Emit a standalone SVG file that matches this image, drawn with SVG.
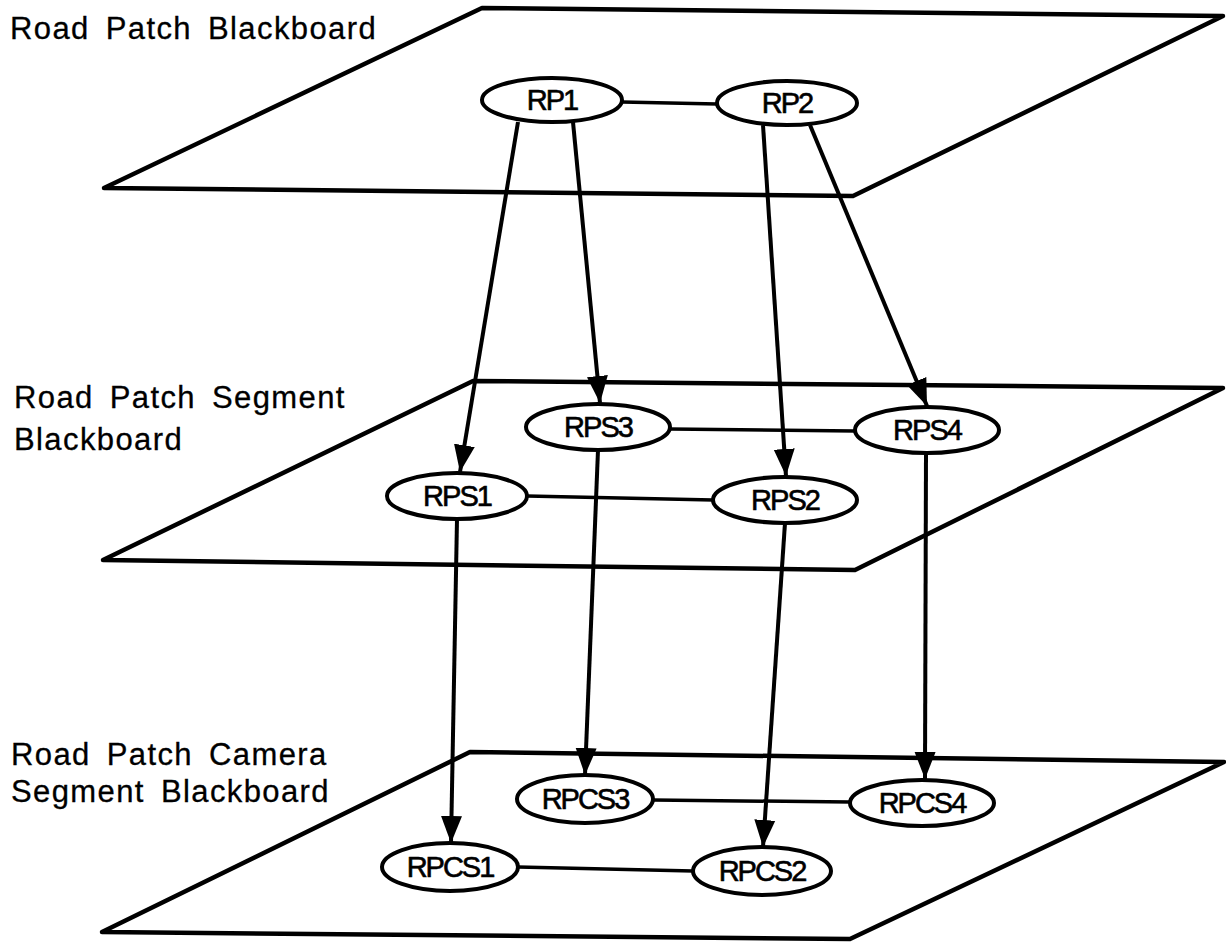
<svg xmlns="http://www.w3.org/2000/svg" width="1226" height="942" viewBox="0 0 1226 942">
<style>
.plane{fill:none;stroke:#000;stroke-width:4.5;stroke-linejoin:round}
.lbl{font-family:"Liberation Sans",Arial,sans-serif;font-size:31px;letter-spacing:1.4px;word-spacing:6px;fill:#000;stroke:#000;stroke-width:0.3}
.node ellipse{fill:#fff;stroke:#000;stroke-width:4}
.node text{font-family:"Liberation Sans",Arial,sans-serif;font-size:29px;letter-spacing:-2px;text-anchor:middle;fill:#000;stroke:#000;stroke-width:0.6}
.edge{stroke:#000;stroke-width:3.5;fill:none}
.arrow{stroke:#000;stroke-width:4;fill:none;marker-end:url(#ah)}
</style>
<defs>
<marker id="ah" markerUnits="userSpaceOnUse" markerWidth="28" markerHeight="24" viewBox="0 0 28 24" refX="27" refY="12" orient="auto">
<path d="M0,1.5 L27,12 L0,22.5 z" fill="#000"/>
</marker>
</defs>
<rect width="1226" height="942" fill="#fff"/>
<g id="planes">
<polygon class="plane" points="482,8 1223,16 853,196 104,188"/>
<polygon class="plane" points="473,381 1223,388 855,570 103,560"/>
<polygon class="plane" points="470,752 1224,762 850,939 102,932"/>
</g>
<g id="labels">
<text class="lbl" x="10" y="39">Road Patch Blackboard</text>
<text class="lbl" x="14" y="408">Road Patch Segment</text>
<text class="lbl" x="14" y="450">Blackboard</text>
<text class="lbl" x="11" y="765">Road Patch Camera</text>
<text class="lbl" x="11" y="802">Segment Blackboard</text>
</g>
<g id="connectors">
<line class="edge" x1="622" y1="102" x2="717" y2="104"/>
<line class="edge" x1="670" y1="429" x2="855" y2="431"/>
<line class="edge" x1="527" y1="496" x2="713" y2="500"/>
<line class="edge" x1="653" y1="800" x2="850" y2="802"/>
<line class="edge" x1="518" y1="867" x2="693" y2="871"/>
<line class="arrow" x1="518" y1="122" x2="460" y2="472"/>
<line class="arrow" x1="573" y1="122" x2="600" y2="403"/>
<line class="arrow" x1="763" y1="125" x2="786" y2="476"/>
<line class="arrow" x1="810" y1="125" x2="927" y2="406"/>
<line class="arrow" x1="457" y1="519" x2="451" y2="843"/>
<line class="arrow" x1="598" y1="450" x2="585" y2="775"/>
<line class="arrow" x1="785" y1="523" x2="763" y2="847"/>
<line class="arrow" x1="926" y1="453" x2="925" y2="779"/>
</g>
<g id="RP1" class="node"><ellipse cx="552" cy="100" rx="70" ry="22"/><text x="552" y="110">RP1</text></g>
<g id="RP2" class="node"><ellipse cx="787" cy="103" rx="70" ry="22"/><text x="787" y="113">RP2</text></g>
<g id="RPS3" class="node"><ellipse cx="598" cy="427" rx="72" ry="23"/><text x="598" y="437">RPS3</text></g>
<g id="RPS4" class="node"><ellipse cx="927" cy="430" rx="72" ry="23"/><text x="927" y="440">RPS4</text></g>
<g id="RPS1" class="node"><ellipse cx="457" cy="496" rx="70" ry="23"/><text x="457" y="506">RPS1</text></g>
<g id="RPS2" class="node"><ellipse cx="785" cy="500" rx="72" ry="23"/><text x="785" y="510">RPS2</text></g>
<g id="RPCS3" class="node"><ellipse cx="585" cy="799" rx="68" ry="24"/><text x="585" y="809">RPCS3</text></g>
<g id="RPCS4" class="node"><ellipse cx="922" cy="803" rx="72" ry="23"/><text x="922" y="813">RPCS4</text></g>
<g id="RPCS1" class="node"><ellipse cx="450" cy="867" rx="68" ry="24"/><text x="450" y="877">RPCS1</text></g>
<g id="RPCS2" class="node"><ellipse cx="762" cy="871" rx="69" ry="24"/><text x="762" y="881">RPCS2</text></g>
</svg>
